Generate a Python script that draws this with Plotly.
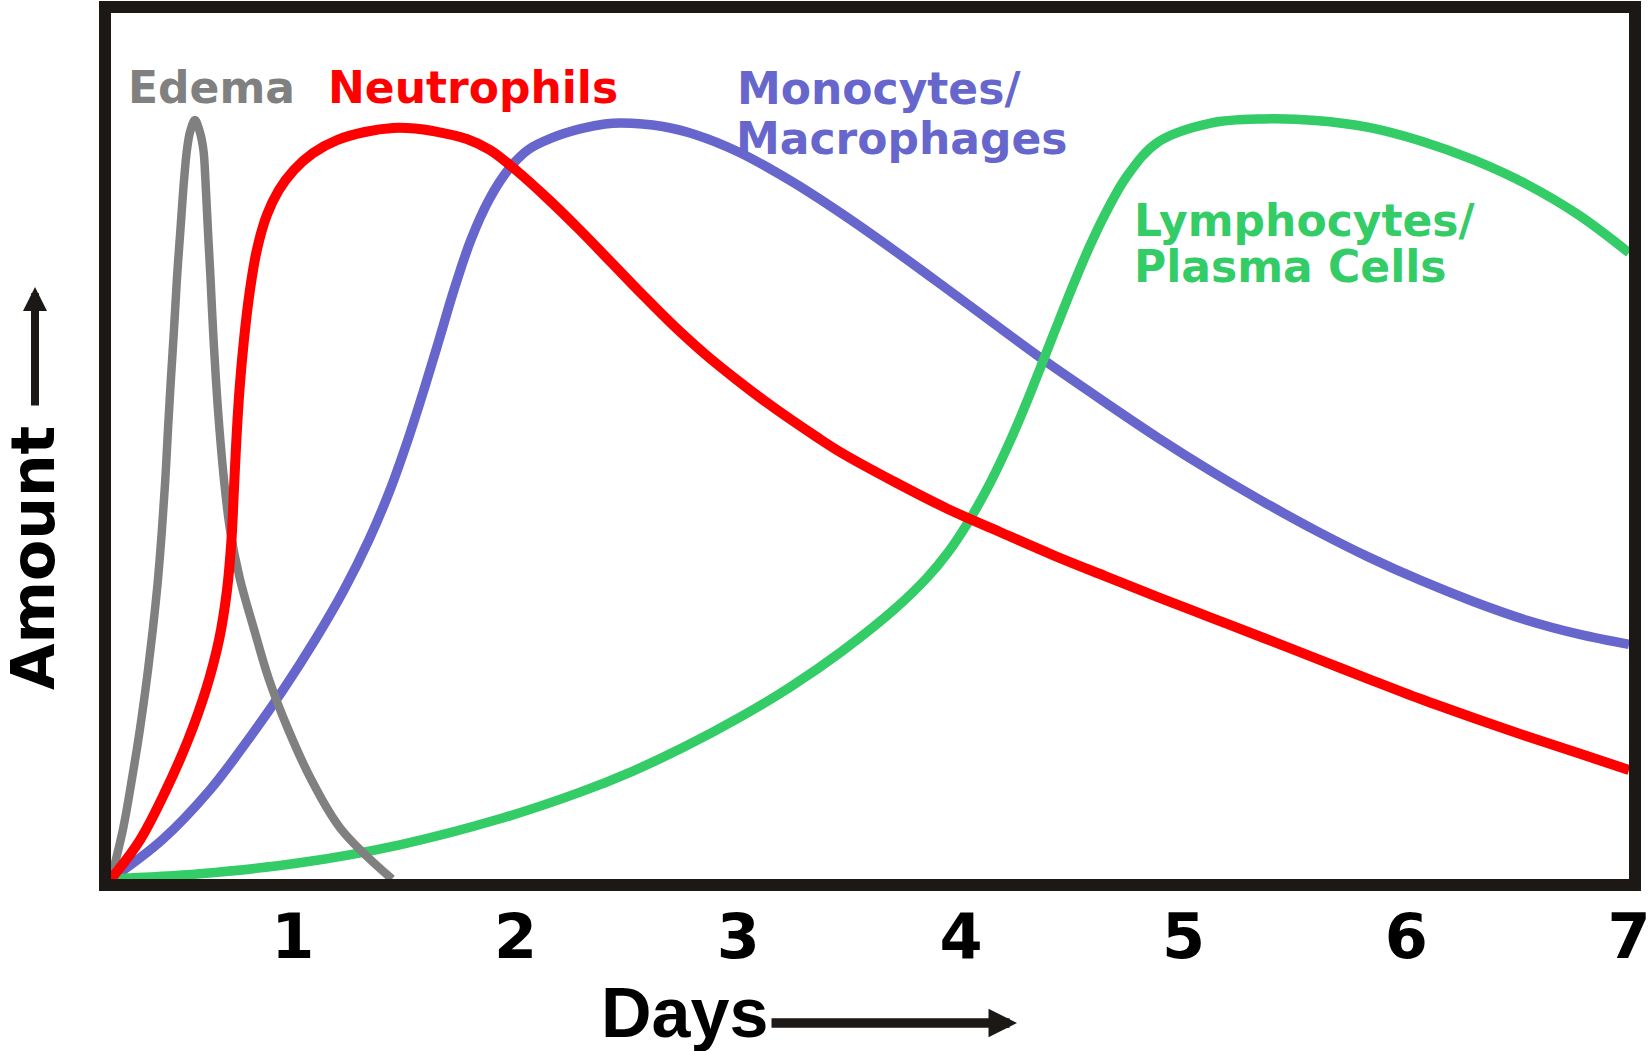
import plotly.graph_objects as go

# ---------------- data ----------------
edema_days = [0.183, 0.237, 0.277, 0.313, 0.344, 0.371, 0.394, 0.412, 0.427, 0.439,
              0.452, 0.466, 0.479, 0.495, 0.511, 0.524, 0.538, 0.560, 0.582, 0.598,
              0.607, 0.618, 0.630, 0.641, 0.654, 0.670, 0.690, 0.717, 0.762, 0.825,
              0.892, 0.978, 1.081, 1.216, 1.445]
edema_amt = [0, 5.77, 11.55, 17.32, 23.09, 28.87, 34.64, 40.42, 46.19, 51.96,
             57.74, 63.51, 69.28, 75.06, 80.71, 84.18, 86.26, 87.64, 86.26, 84.18,
             80.71, 75.06, 69.28, 63.51, 57.74, 51.96, 46.19, 40.42, 34.64, 28.87,
             23.09, 17.32, 11.55, 5.77, 0]

neut_days = [0.183, 0.313, 0.430, 0.529, 0.609, 0.668, 0.704, 0.724, 0.735, 0.746,
             0.760, 0.780, 0.807, 0.838, 0.883, 0.937, 1.004, 1.090, 1.198, 1.323,
             1.449, 1.548, 1.629, 1.781, 1.885, 2.001, 2.141, 2.284, 2.428, 2.567,
             2.711, 2.850, 2.994, 3.113, 3.232, 3.349, 3.465, 3.703, 3.941, 4.175,
             4.413, 4.650, 4.884, 5.122, 5.360, 5.594, 5.831, 6.065, 6.303, 6.541,
             6.774, 7.0]
neut_amt = [0, 4.50, 10.28, 16.05, 21.82, 27.60, 33.37, 39.15, 44.92, 50.69,
            56.47, 62.24, 68.01, 72.63, 76.67, 79.56, 81.87, 83.83, 85.33, 86.26,
            86.72, 86.66, 86.37, 85.45, 84.18, 81.87, 78.64, 75.06, 71.25, 67.55,
            63.86, 60.62, 57.62, 55.30, 53.12, 51.10, 49.19, 45.84, 42.73, 40.07,
            37.41, 34.95, 32.56, 30.19, 27.83, 25.48, 23.09, 20.78, 18.59, 16.48,
            14.51, 12.59]

mono_days = [0.183, 0.412, 0.627, 0.798, 0.955, 1.099, 1.229, 1.341, 1.436, 1.516,
             1.588, 1.656, 1.723, 1.799, 1.880, 1.966, 2.055, 2.163, 2.289, 2.401,
             2.473, 2.661, 2.805, 2.994, 3.232, 3.465, 3.703, 3.941, 4.175, 4.363,
             4.650, 4.884, 5.122, 5.360, 5.594, 5.831, 6.065, 6.303, 6.541, 6.774, 7.0]
mono_amt = [0, 4.50, 10.28, 16.05, 21.82, 27.60, 33.37, 39.15, 44.92, 50.69,
            56.47, 62.24, 68.01, 73.79, 78.41, 81.87, 84.18, 85.57, 86.61, 87.18,
            87.30, 86.90, 85.98, 84.04, 80.67, 76.82, 72.54, 68.07, 63.62, 60.08,
            55.00, 50.96, 47.11, 43.53, 40.23, 37.17, 34.47, 32.02, 29.88, 28.27, 27.09]

lymph_days = [0.183, 0.582, 1.031, 1.480, 1.930, 2.284, 2.522, 2.756, 2.994, 3.232,
              3.465, 3.703, 3.847, 3.941, 4.035, 4.130, 4.224, 4.296, 4.363, 4.435,
              4.507, 4.579, 4.650, 4.745, 4.884, 5.122, 5.360, 5.594, 5.831, 6.065,
              6.303, 6.541, 6.774, 7.0]
lymph_amt = [0, 0.60, 1.87, 3.95, 6.95, 9.97, 12.41, 15.23, 18.48, 22.15,
             26.29, 31.19, 34.77, 37.68, 41.32, 45.68, 50.77, 55.12, 59.45, 64.16,
             68.78, 73.12, 76.91, 81.15, 85.08, 87.29, 87.77, 87.59, 86.79, 85.22,
             83.03, 80.21, 76.67, 72.31]

day_ticks = [1, 2, 3, 4, 5, 6, 7]
day_labels = ["1", "2", "3", "4", "5", "6", "7"]

series_names = ["Edema", "Neutrophils", "Monocytes/Macrophages", "Lymphocytes/Plasma Cells"]

# ---------------- styling ----------------
GRAY = "#808080"
RED = "#ff0000"
BLUE = "#6666cc"
GREEN = "#33cc66"
FRAME = "#1c1816"
LABEL_FONT = "DejaVu Sans, Liberation Sans, Arial, sans-serif"

W, H = 1651, 1051
L, R, T, B = 111, 1629, 13, 879  # inner plot area in pixels


def px(xp):
    return (xp - L) / (R - L)


def py(yp):
    return (B - yp) / (B - T)


fig = go.Figure()
fig.add_trace(go.Scatter(x=mono_days, y=mono_amt, mode="lines", name=series_names[2],
                         line=dict(color=BLUE, width=9.5, shape="spline", smoothing=1.0)))
fig.add_trace(go.Scatter(x=lymph_days, y=lymph_amt, mode="lines", name=series_names[3],
                         line=dict(color=GREEN, width=9.5, shape="spline", smoothing=1.0)))
fig.add_trace(go.Scatter(x=edema_days, y=edema_amt, mode="lines", name=series_names[0],
                         line=dict(color=GRAY, width=8.5, shape="spline", smoothing=1.0)))
fig.add_trace(go.Scatter(x=neut_days, y=neut_amt, mode="lines", name=series_names[1],
                         line=dict(color=RED, width=10, shape="spline", smoothing=1.0)))

labels = [
    ("Edema", GRAY, 126, 88),
    ("Neutrophils", RED, 326, 88),
    ("Monocytes/", BLUE, 735, 89),
    ("Macrophages", BLUE, 734, 138),
    ("Lymphocytes/", GREEN, 1132, 220),
    ("Plasma Cells", GREEN, 1132, 266),
]
annotations = []
for txt, col, xl, yc in labels:
    annotations.append(dict(text="<b>%s</b>" % txt, x=px(xl), y=py(yc), xref="paper", yref="paper",
                            xanchor="left", yanchor="middle", showarrow=False,
                            font=dict(family=LABEL_FONT, size=44, color=col)))

# "Days" label and arrow
annotations.append(dict(text="<b>Days</b>", x=px(599), y=py(1013), xref="paper", yref="paper",
                        xanchor="left", yanchor="middle", showarrow=False,
                        font=dict(family="Liberation Sans, Arial, sans-serif", size=70, color="#000000")))
annotations.append(dict(text="", x=px(1017), y=py(1023), xref="paper", yref="paper",
                        ax=-247, ay=0, axref="pixel", ayref="pixel", showarrow=True,
                        arrowhead=2, arrowsize=0.6, arrowwidth=9.5, arrowcolor=FRAME))
# "Amount" label and arrow
annotations.append(dict(text="<b>Amount</b>", x=px(33), y=py(558), xref="paper", yref="paper",
                        xanchor="center", yanchor="middle", showarrow=False, textangle=-90,
                        font=dict(family=LABEL_FONT, size=60, color="#000000")))
annotations.append(dict(text="", x=px(35), y=py(287), xref="paper", yref="paper",
                        ax=0, ay=120, axref="pixel", ayref="pixel", showarrow=True,
                        arrowhead=2, arrowsize=0.6, arrowwidth=8, arrowcolor=FRAME))

fig.update_layout(
    width=W, height=H,
    margin=dict(l=L, r=W - R, t=T, b=H - B, pad=0, autoexpand=False),
    paper_bgcolor="white", plot_bgcolor="white",
    showlegend=False,
    annotations=annotations,
    xaxis=dict(range=[0.183, 7.0], showgrid=False, zeroline=False, automargin=False,
               showline=True, mirror=True, linewidth=12, linecolor=FRAME,
               tickmode="array", tickvals=day_ticks, ticktext=["<b>%s</b>" % t for t in day_labels],
               ticks="", ticklabelstandoff=-7,
               tickfont=dict(family=LABEL_FONT, size=62, color="#000000")),
    yaxis=dict(range=[0, 100], showgrid=False, zeroline=False, automargin=False,
               showline=True, mirror=True, linewidth=12, linecolor=FRAME,
               showticklabels=False, ticks=""),
)

fig.write_html("out.html", config={"displayModeBar": False},
               post_script="document.body.style.margin='0px';document.body.style.overflow='hidden';")
